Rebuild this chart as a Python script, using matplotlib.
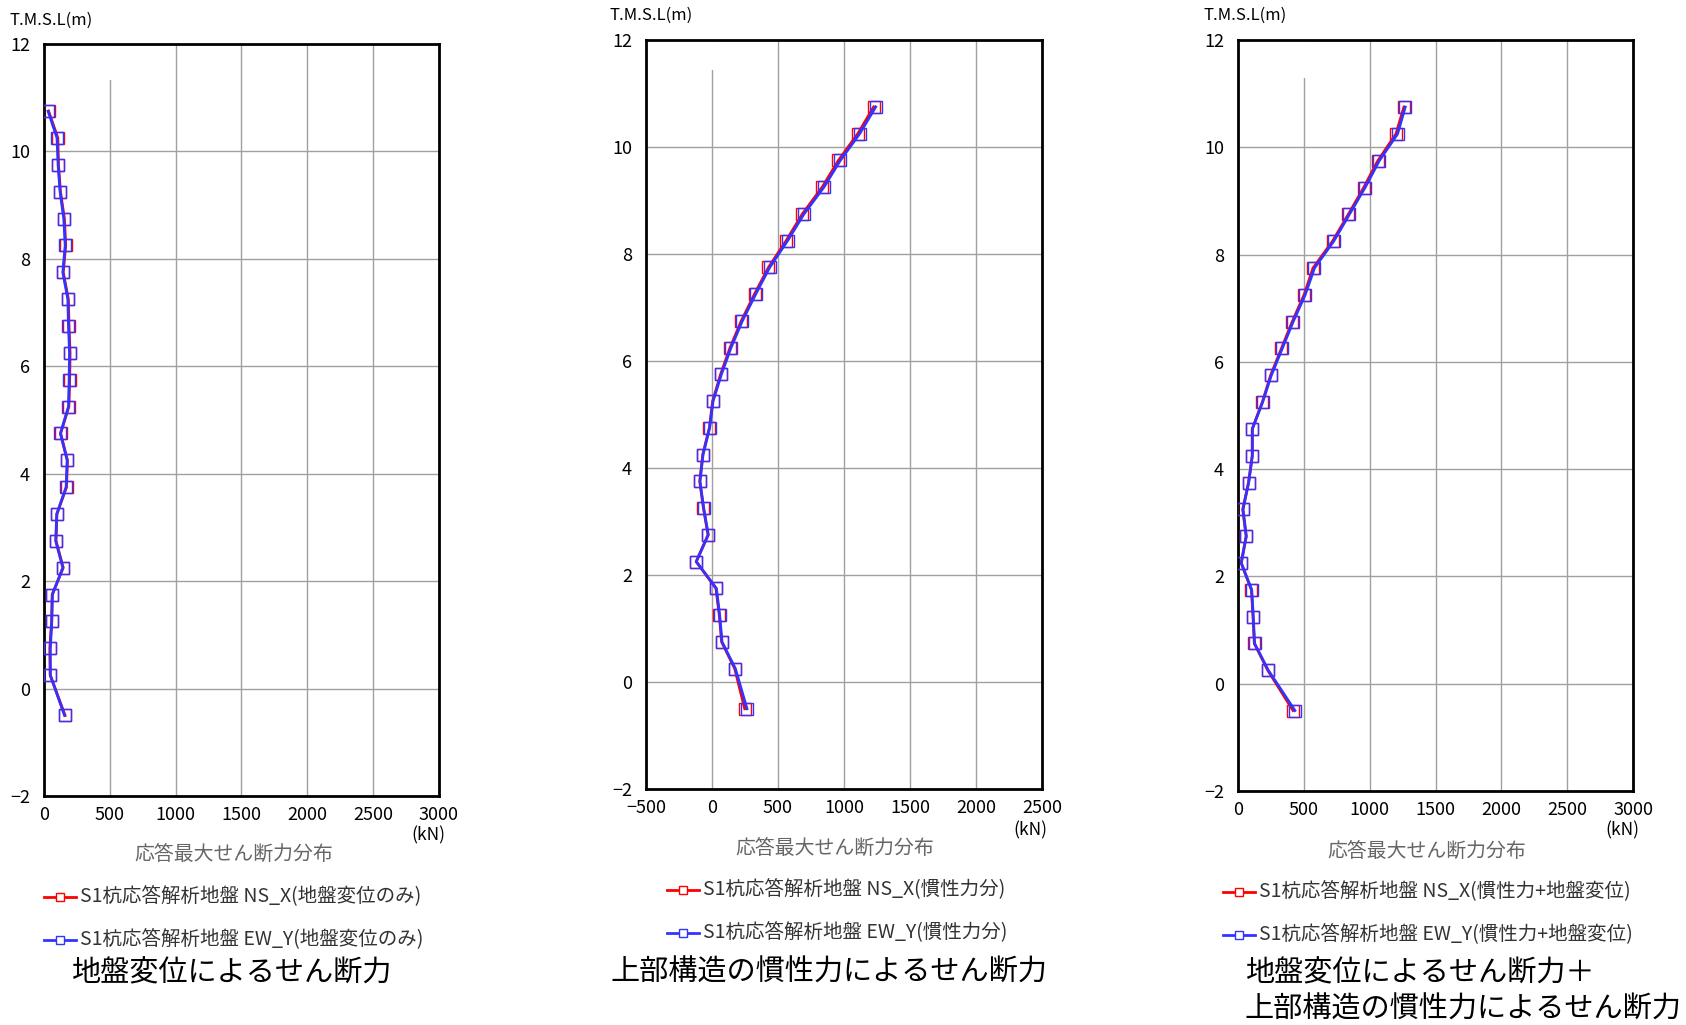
import matplotlib.pyplot as plt
from matplotlib.patches import Rectangle
from matplotlib.lines import Line2D

plt.rcParams['font.family'] = ['Noto Sans CJK JP', 'DejaVu Sans']

# elevation of each output point (T.M.S.L, m)
elev = [10.75, 10.25, 9.75, 9.25, 8.75, 8.25, 7.75, 7.25, 6.75, 6.25, 5.75, 5.25,
        4.75, 4.25, 3.75, 3.25, 2.75, 2.25, 1.75, 1.25, 0.75, 0.25, -0.5]

# shear force (kN) - ground displacement only
p1_ns = [35, 105, 110, 125, 155, 165, 146, 185, 190, 198, 195, 189,
         126, 178, 171, 98, 91, 146, 62, 58, 44, 47, 160]
p1_ew = [31, 99, 107, 122, 150, 161, 143, 181, 186, 194, 191, 186,
         125, 176, 168, 97, 89, 143, 64, 59, 48, 48, 156]

# shear force (kN) - inertia of superstructure
p2_ns = [1225, 1105, 958, 835, 685, 562, 428, 322, 222, 137, 65, 5,
         -20, -70, -93, -65, -30, -120, 30, 55, 73, 172, 248]
p2_ew = [1240, 1119, 972, 848, 697, 573, 437, 331, 230, 144, 71, 8,
         -18, -68, -91, -63, -28, -119, 33, 58, 76, 177, 265]

# shear force (kN) - inertia + ground displacement
p3_ns = [1260, 1200, 1062, 955, 838, 718, 570, 502, 412, 330, 248, 185,
         108, 108, 80, 36, 62, 24, 102, 114, 124, 226, 418]
p3_ew = [1270, 1212, 1073, 965, 846, 727, 581, 510, 419, 336, 253, 187,
         109, 109, 81, 38, 63, 25, 104, 116, 126, 230, 432]

xlims = [(0, 3000), (-500, 2500), (0, 3000)]
legend_ns = ['S1杭応答解析地盤 NS_X(地盤変位のみ)',
             'S1杭応答解析地盤 NS_X(慣性力分)',
             'S1杭応答解析地盤 NS_X(慣性力+地盤変位)']
legend_ew = ['S1杭応答解析地盤 EW_Y(地盤変位のみ)',
             'S1杭応答解析地盤 EW_Y(慣性力分)',
             'S1杭応答解析地盤 EW_Y(慣性力+地盤変位)']
caption = '応答最大せん断力分布'

RED = '#ff0000'
BLUE = '#3333ff'

W, H = 1686, 1025
fig = plt.figure(figsize=(W / 100, H / 100), dpi=100)


def fx(x):
    return x / W


def fy(y):
    return 1 - y / H


# axes boxes in pixels: left, top, right, bottom
boxes = [(44, 44, 439, 796), (646, 40, 1042, 789), (1238, 40, 1633, 791)]
# white patch at top-left of each plot: x0, x1, y0
patches = [(0, 520, 11.33), (-500, 20, 11.44), (0, 520, 11.29)]
series = [(p1_ns, p1_ew), (p2_ns, p2_ew), (p3_ns, p3_ew)]

for i, (l, t, r, b) in enumerate(boxes):
    ax = fig.add_axes([fx(l), fy(b), (r - l) / W, (b - t) / H])
    ns, ew = series[i]
    ax.plot(ns, elev, color=RED, lw=2, marker='s', ms=8, mfc='none',
            mec=RED, mew=1, zorder=3)
    ax.plot(ew, elev, color=BLUE, lw=2, marker='s', ms=8, mfc='none',
            mec=BLUE, mew=1, zorder=4)
    x0, x1 = xlims[i]
    ax.set_xlim(x0, x1)
    ax.set_ylim(-2, 12)
    ax.set_xticks(range(x0, x1 + 1, 500))
    ax.set_yticks(range(-2, 13, 2))
    ax.set_axisbelow(True)
    ax.grid(color='#a0a0a0', lw=1)
    ax.tick_params(length=0, labelsize=13)
    ax.tick_params(axis='x', pad=7)
    ax.tick_params(axis='y', pad=10)
    for s in ax.spines.values():
        s.set_linewidth(2)
        s.set_color('black')
    px0, px1, py0 = patches[i]
    ax.add_patch(Rectangle((px0, py0), px1 - px0, 12 - py0, color='white',
                           lw=0, zorder=1))

# axis annotations
for x, y in [(10, 20), (610, 15), (1203, 15)]:
    fig.text(fx(x), fy(y), 'T.M.S.L(m)', fontsize=12, ha='left', va='center')
for x, y in [(428, 835), (1030, 830), (1622, 830)]:
    fig.text(fx(x), fy(y), '(kN)', fontsize=12.5, ha='center', va='center')
for x, y in [(234, 854), (835, 848), (1427, 851)]:
    fig.text(fx(x), fy(y), caption, fontsize=14.3, color='#666666',
             ha='center', va='center')

# legends
leg_pos = [(44, 897, 940), (667, 890, 933), (1223, 892, 935)]
for i, (x, y1, y2) in enumerate(leg_pos):
    for y, col, lab in [(y1, RED, legend_ns[i]), (y2, BLUE, legend_ew[i])]:
        fig.add_artist(Line2D([fx(x), fx(x + 32)], [fy(y), fy(y)], color=col,
                              lw=2, transform=fig.transFigure))
        fig.add_artist(Line2D([fx(x + 16)], [fy(y)], color=col, marker='s',
                              ms=6, mfc='white', mec=col, mew=1,
                              transform=fig.transFigure))
        fig.text(fx(x + 36), fy(y), lab, fontsize=14, color='#333333',
                 ha='left', va='center')

# panel titles
fig.text(fx(231), fy(973), '地盤変位によるせん断力', fontsize=21,
         ha='center', va='center')
fig.text(fx(829), fy(973), '上部構造の慣性力によるせん断力', fontsize=21,
         ha='center', va='center')
fig.text(fx(1245), fy(973), '地盤変位によるせん断力＋', fontsize=21,
         ha='left', va='center')
fig.text(fx(1245), fy(1010), '上部構造の慣性力によるせん断力', fontsize=21,
         ha='left', va='center')

fig.savefig('out.png', dpi=100)
